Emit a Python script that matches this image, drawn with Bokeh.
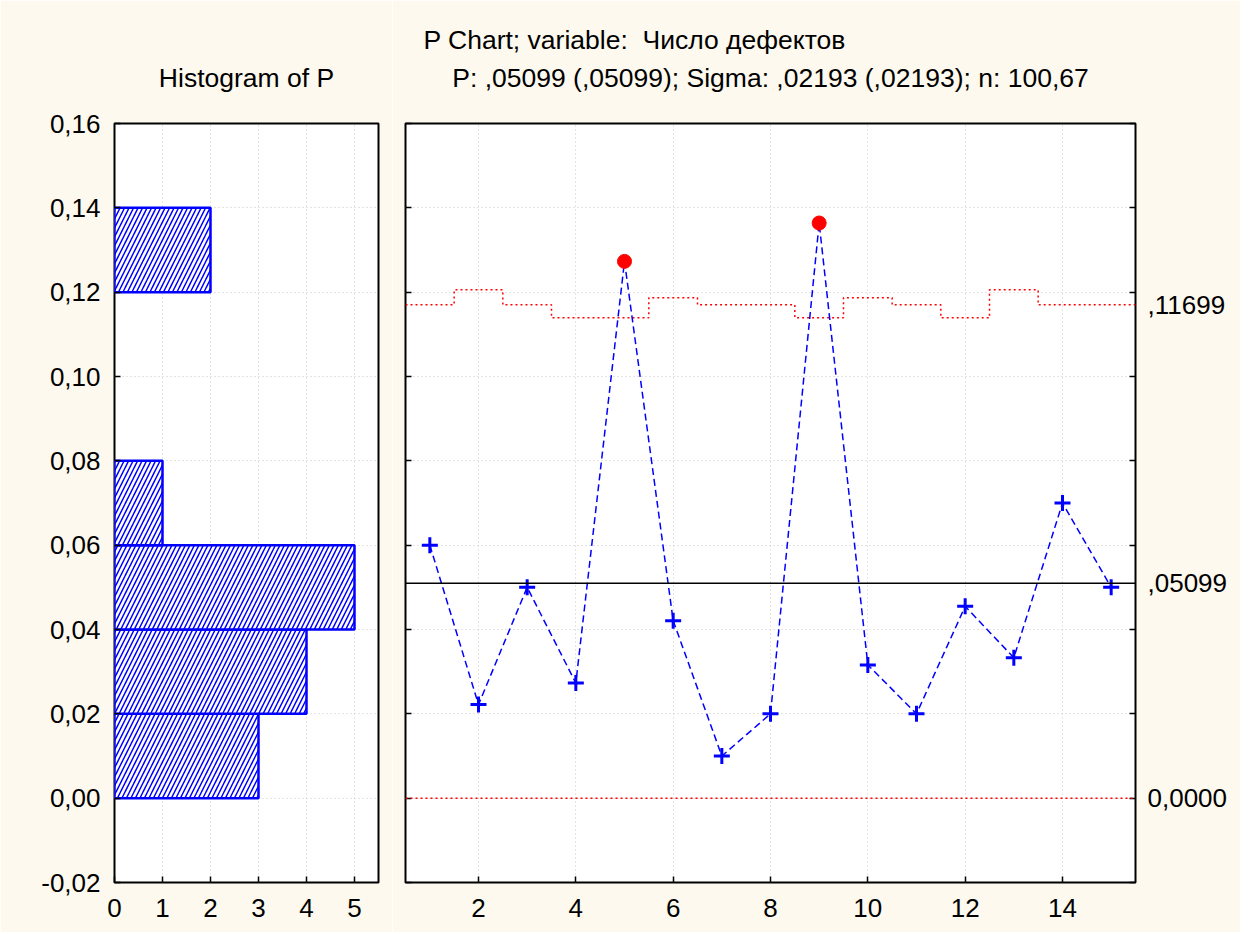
from bokeh.plotting import figure
from bokeh.layouts import row
from bokeh.models import (Range1d, FixedTicker, CustomJSTickFormatter, Span, Title,
                          ColumnDataSource, LinearAxis)
from bokeh.embed import file_html
from bokeh.resources import INLINE

# ---------------- data ----------------
sample_no = [1, 2, 3, 4, 5, 6, 7, 8, 9, 10, 11, 12, 13, 14, 15]
sample_size = [100, 90, 100, 110, 110, 95, 100, 100, 110, 95, 100, 110, 90, 100, 100]
p_values = [0.0600, 0.0222, 0.0500, 0.0273, 0.1273, 0.0421, 0.0100, 0.0200,
            0.1364, 0.0316, 0.0200, 0.0455, 0.0333, 0.0700, 0.0500]
ucl_values = [0.11699, 0.12055, 0.11699, 0.11391, 0.11391, 0.11870, 0.11699, 0.11699,
              0.11391, 0.11870, 0.11699, 0.11391, 0.12055, 0.11699, 0.11699]
center_value = 0.05099
lcl_value = 0.0

hist_bin_start = [0.00, 0.02, 0.04, 0.06, 0.08, 0.10, 0.12]
hist_count = [3, 4, 5, 1, 0, 0, 2]
hist_bin_width = 0.02

y_ticks = [-0.02, 0.0, 0.02, 0.04, 0.06, 0.08, 0.10, 0.12, 0.14, 0.16]
hist_x_ticks = [0, 1, 2, 3, 4, 5]
chart_x_ticks = [2, 4, 6, 8, 10, 12, 14]
right_ticks = [0.0, 0.05099, 0.11699]
right_tick_labels = ["0,0000", ",05099", ",11699"]

main_title = "P Chart; variable:\u00a0 Число дефектов"
hist_title = "Histogram of P"
chart_subtitle = "P: ,05099 (,05099); Sigma: ,02193 (,02193); n: 100,67"

# ---------------- style ----------------
CREAM = "#FDF9EE"
FONT = "Liberation Sans"
TICK_FS = "26px"
TITLE_FS = "26.5px"
GRID_COLOR = "#c8c8c8"
BLUE = "#0000FF"
RED = "#FF0000"

Y0, Y1 = -0.02, 0.16
FRAME_H = 759
TOP_B = 123
BOTTOM_B = 50

comma_fmt = CustomJSTickFormatter(code="return tick.toFixed(2).replace('.', ',');")


def style_axis(ax):
    ax.axis_line_color = None
    ax.major_tick_in = 6
    ax.major_tick_out = 0
    ax.minor_tick_in = 0
    ax.minor_tick_out = 0
    ax.major_tick_line_color = "black"
    ax.major_tick_line_width = 1.5
    ax.major_label_text_font = FONT
    ax.major_label_text_font_size = TICK_FS
    ax.major_label_text_color = "black"


def style_grid(p):
    for g in (p.xgrid[0], p.ygrid[0]):
        g.grid_line_color = GRID_COLOR
        g.grid_line_dash = "1 3"
        g.grid_line_width = 1


def make_title(text, align="center", offset=0, standoff=0):
    return Title(text=text, align=align, offset=offset, standoff=standoff,
                 text_font=FONT, text_font_size=TITLE_FS, text_font_style="normal",
                 text_color="black")


# ---------------- histogram (left) ----------------
left = figure(frame_width=264, frame_height=FRAME_H,
              x_range=Range1d(0, 5.5), y_range=Range1d(Y0, Y1),
              output_backend="svg", toolbar_location=None,
              min_border_left=114, min_border_right=14,
              min_border_top=TOP_B, min_border_bottom=BOTTOM_B,
              background_fill_color="white", border_fill_color=CREAM,
              outline_line_color="black", outline_line_width=2)

left.xaxis.ticker = FixedTicker(ticks=hist_x_ticks)
left.yaxis.ticker = FixedTicker(ticks=y_ticks)
left.yaxis.formatter = comma_fmt
for ax in (left.xaxis[0], left.yaxis[0]):
    style_axis(ax)
left.xaxis.major_label_standoff = 16
left.yaxis.major_label_standoff = 14
style_grid(left)

hist_rows = [(s + hist_bin_width / 2, c) for s, c in zip(hist_bin_start, hist_count) if c > 0]
hist_src = ColumnDataSource(data=dict(y=[r[0] for r in hist_rows],
                                      right=[r[1] for r in hist_rows]))
left.hbar(y="y", height=hist_bin_width, left=0, right="right", source=hist_src,
          fill_color="white", line_color=BLUE, line_width=2.5,
          hatch_pattern="/", hatch_color=BLUE, hatch_scale=9, hatch_weight=1.5)

left.add_layout(make_title(hist_title, standoff=61), "above")

# ---------------- P chart (right) ----------------
right = figure(frame_width=730, frame_height=FRAME_H,
               x_range=Range1d(0.5, 15.5), y_range=Range1d(Y0, Y1),
               output_backend="svg", toolbar_location=None,
               min_border_left=13, min_border_right=105,
               min_border_top=TOP_B, min_border_bottom=BOTTOM_B,
               background_fill_color="white", border_fill_color=CREAM,
               outline_line_color="black", outline_line_width=2)

right.xaxis.ticker = FixedTicker(ticks=chart_x_ticks)
right.yaxis.ticker = FixedTicker(ticks=[], minor_ticks=y_ticks)
for ax in (right.xaxis[0], right.yaxis[0]):
    style_axis(ax)
right.xaxis.major_label_standoff = 16
right.yaxis.minor_tick_in = 6
right.yaxis.minor_tick_line_color = "black"
right.yaxis.minor_tick_line_width = 1.5
style_grid(right)
right.ygrid[0].ticker = FixedTicker(ticks=y_ticks)

raxis = LinearAxis(ticker=FixedTicker(ticks=right_ticks, minor_ticks=y_ticks),
                   major_label_overrides={t: l for t, l in zip(right_ticks, right_tick_labels)})
style_axis(raxis)
raxis.major_tick_in = 0
raxis.minor_tick_in = 6
raxis.minor_tick_line_color = "black"
raxis.minor_tick_line_width = 1.5
raxis.major_label_standoff = 12
right.add_layout(raxis, "right")

# limits
right.add_layout(Span(location=center_value, dimension="width",
                      line_color="black", line_width=1.5))
right.add_layout(Span(location=lcl_value, dimension="width",
                      line_color=RED, line_width=1.5, line_dash="2 3"))
step_x = [s - 0.5 for s in sample_no] + [sample_no[-1] + 0.5]
step_y = ucl_values + [ucl_values[-1]]
right.step(step_x, step_y, mode="after", line_color=RED, line_width=1.5, line_dash="2 3")

# data line
right.line(sample_no, p_values, line_color=BLUE, line_width=1.5, line_dash="7 4")
ok_x = [s for s, v, u in zip(sample_no, p_values, ucl_values) if v <= u]
ok_y = [v for v, u in zip(p_values, ucl_values) if v <= u]
out_x = [s for s, v, u in zip(sample_no, p_values, ucl_values) if v > u]
out_y = [v for v, u in zip(p_values, ucl_values) if v > u]
right.scatter(ok_x, ok_y, marker="cross", size=16, line_color=BLUE, line_width=3)
right.scatter(out_x, out_y, marker="circle", size=14, fill_color=RED, line_color=RED)

right.add_layout(make_title(chart_subtitle, standoff=61), "above")
right.add_layout(make_title(main_title, align="left", offset=18, standoff=-48), "above")

layout = row(left, right, spacing=0)
open("out.html", "w").write(file_html(layout, INLINE))
